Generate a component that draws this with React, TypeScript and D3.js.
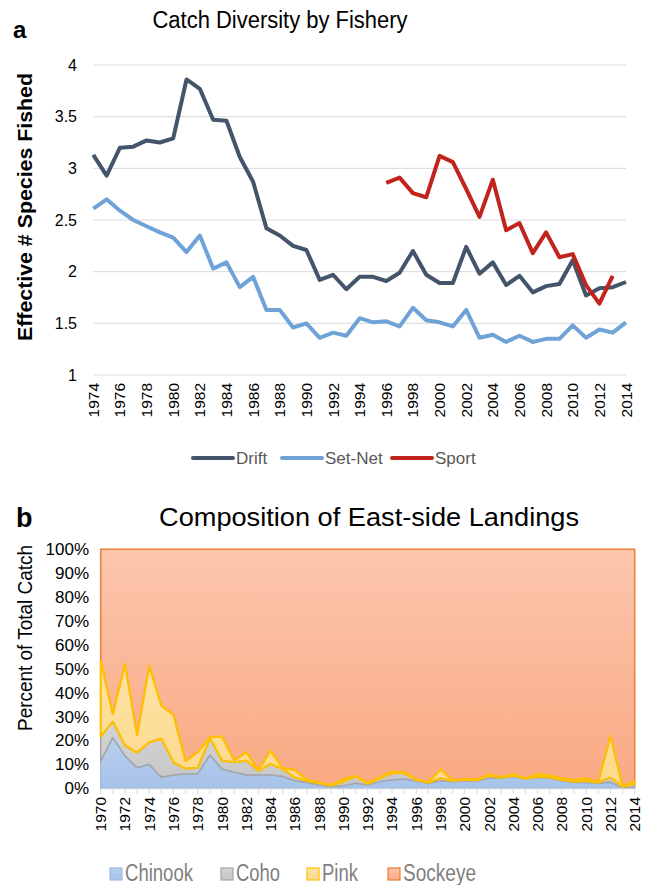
import * as d3 from "d3";
import { useRef, useEffect } from "react";

// ---- panel a: effective number of species fished ----
const yearsA = d3.range(1974, 2015);
const drift = [
  3.13, 2.93, 3.2, 3.21, 3.27, 3.25, 3.29, 3.86, 3.77, 3.47, 3.46, 3.11, 2.87,
  2.42, 2.35, 2.25, 2.21, 1.92, 1.97, 1.83, 1.95, 1.95, 1.91, 1.99, 2.2, 1.97,
  1.89, 1.89, 2.24, 1.98, 2.09, 1.87, 1.96, 1.8, 1.86, 1.88, 2.11, 1.77, 1.84,
  1.85, 1.9,
];
const setNet = [
  2.61, 2.7, 2.59, 2.5, 2.44, 2.38, 2.33, 2.19, 2.35, 2.03, 2.09, 1.85, 1.95,
  1.63, 1.63, 1.46, 1.5, 1.36, 1.41, 1.38, 1.55, 1.51, 1.52, 1.47, 1.65, 1.53,
  1.51, 1.47, 1.63, 1.36, 1.39, 1.32, 1.38, 1.32, 1.35, 1.35, 1.48, 1.36, 1.44,
  1.41, 1.51,
];
// sport starts in 1996 and ends in 2013
const sportYears = d3.range(1996, 2014);
const sport = [
  2.86, 2.91, 2.76, 2.72, 3.12, 3.06, 2.8, 2.53, 2.89, 2.4, 2.47, 2.18, 2.38,
  2.14, 2.17, 1.87, 1.69, 1.96,
];
const yTicksA = [1, 1.5, 2, 2.5, 3, 3.5, 4];

// ---- panel b: composition of east-side landings (%) ----
const yearsB = d3.range(1970, 2015);
const chinook = [
  11.4, 21.2, 13.5, 8.6, 10.0, 4.6, 5.6, 6.0, 6.0, 13.9, 8.0, 6.7, 5.6, 5.6,
  5.6, 4.9, 3.2, 2.4, 1.4, 0.7, 1.1, 2.1, 1.4, 2.8, 3.5, 3.9, 3.1, 2.0, 3.1,
  2.8, 3.1, 3.1, 4.2, 4.2, 4.9, 3.8, 4.5, 4.2, 3.1, 2.4, 2.4, 2.1, 2.5, 0.4,
  0.4,
];
const coho = [
  10.2, 6.7, 4.4, 6.3, 9.2, 16.2, 5.1, 2.2, 2.6, 7.0, 3.6, 4.2, 6.0, 1.7, 4.6,
  3.1, 1.3, 0.7, 0.7, 0.4, 1.7, 2.8, 0.5, 1.4, 2.8, 2.4, 0.4, 0.3, 1.1, 0.3,
  0.5, 0.3, 1.1, 0.2, 0.4, 0.2, 0.4, 0.4, 0.4, 0.4, 0.7, 0.3, 2.0, 0.3, 1.3,
];
const pink = [
  31.8, 3.2, 34.1, 7.4, 32.0, 13.8, 20.0, 3.2, 6.5, 0.5, 10.0, 0.7, 3.5, 0.3,
  5.6, 0.4, 3.2, 0.4, 0.4, 0.3, 1.0, 0.3, 0.4, 0.4, 0.7, 0.4, 0.3, 0.3, 3.7,
  0.3, 0.3, 0.3, 0.5, 0.3, 0.6, 0.2, 1.1, 0.7, 0.7, 0.7, 1.1, 0.2, 17.4, 0.2,
  1.4,
];
const sockeye = [
  46.6, 68.9, 48.0, 77.7, 48.8, 65.4, 69.3, 88.6, 84.9, 78.6, 78.4, 88.4,
  84.9, 92.4, 84.2, 91.6, 92.3, 96.5, 97.5, 98.6, 96.2, 94.8, 97.7, 95.4, 93.0,
  93.3, 96.2, 97.4, 92.1, 96.6, 96.1, 96.3, 94.2, 95.3, 94.1, 95.8, 94.0, 94.7,
  95.8, 96.5, 95.8, 97.4, 78.1, 99.1, 96.9,
];
const speciesNames = ["Chinook", "Coho", "Pink", "Sockeye"];
const yTicksB = [0, 0.1, 0.2, 0.3, 0.4, 0.5, 0.6, 0.7, 0.8, 0.9, 1];

const FONT = "'Liberation Sans', Arial, Helvetica, sans-serif";

const App = () => {
  const container = useRef<SVGSVGElement | null>(null);

  useEffect(() => {
    const svg = d3.select(container.current);
    svg.selectAll("*").remove();
    svg.style("font-family", FONT);

    // ================= panel a =================
    const ga = svg.append("g");
    const xA = d3
      .scalePoint<number>()
      .domain(yearsA)
      .range([93.3, 626]);
    const yA = d3.scaleLinear().domain([1, 4]).range([375, 65]);

    ga.append("text")
      .attr("x", 13)
      .attr("y", 38)
      .attr("font-size", 24)
      .attr("font-weight", "bold")
      .text("a");
    ga.append("text")
      .attr("x", 280)
      .attr("y", 28)
      .attr("text-anchor", "middle")
      .attr("font-size", 23)
      .attr("textLength", 255)
      .attr("lengthAdjust", "spacingAndGlyphs")
      .text("Catch Diversity by Fishery");

    ga.selectAll(".grid")
      .data(yTicksA)
      .join("line")
      .attr("x1", 93.3)
      .attr("x2", 626)
      .attr("y1", (d) => yA(d))
      .attr("y2", (d) => yA(d))
      .attr("stroke", "#d9d9d9")
      .attr("stroke-width", 1);

    ga.selectAll(".ytick")
      .data(yTicksA)
      .join("text")
      .attr("x", 77)
      .attr("y", (d) => yA(d))
      .attr("dy", "0.35em")
      .attr("text-anchor", "end")
      .attr("font-size", 16)
      .attr("fill", "#000")
      .text((d) => String(d));

    ga.selectAll(".xtick")
      .data(yearsA.filter((y) => y % 2 === 0))
      .join("text")
      .attr(
        "transform",
        (d) => `translate(${xA(d)! + 5.5},383) rotate(-90)`
      )
      .attr("text-anchor", "end")
      .attr("font-size", 15.5)
      .text((d) => String(d));

    ga.append("text")
      .attr("transform", "translate(32,207) rotate(-90)")
      .attr("text-anchor", "middle")
      .attr("font-size", 20)
      .attr("font-weight", "bold")
      .attr("textLength", 268)
      .attr("lengthAdjust", "spacingAndGlyphs")
      .text("Effective # Species Fished");

    const line = d3
      .line<[number, number]>()
      .x((d) => xA(d[0])!)
      .y((d) => yA(d[1]));

    const seriesA = [
      { name: "Drift", color: "#44546a", pts: yearsA.map((y, i) => [y, drift[i]]) },
      { name: "Set-Net", color: "#6fa3d8", pts: yearsA.map((y, i) => [y, setNet[i]]) },
      { name: "Sport", color: "#c0241c", pts: sportYears.map((y, i) => [y, sport[i]]) },
    ];

    ga.selectAll(".series")
      .data(seriesA)
      .join("path")
      .attr("d", (d) => line(d.pts as [number, number][]))
      .attr("fill", "none")
      .attr("stroke", (d) => d.color)
      .attr("stroke-width", 4)
      .attr("stroke-linejoin", "round");

    // legend a
    const legA = [193, 282, 392];
    seriesA.forEach((s, i) => {
      ga.append("line")
        .attr("x1", legA[i])
        .attr("x2", legA[i] + 40)
        .attr("y1", 458)
        .attr("y2", 458)
        .attr("stroke", s.color)
        .attr("stroke-width", 4)
        .attr("stroke-linecap", "round");
      ga.append("text")
        .attr("x", legA[i] + 43)
        .attr("y", 464)
        .attr("font-size", 17)
        .attr("fill", "#595959")
        .text(s.name);
    });

    // ================= panel b =================
    const gb = svg.append("g");
    const xB = d3
      .scalePoint<number>()
      .domain(yearsB)
      .range([100.7, 634.7]);
    const yB = d3.scaleLinear().domain([0, 1]).range([788.3, 549.3]);

    gb.append("text")
      .attr("x", 16)
      .attr("y", 527)
      .attr("font-size", 27)
      .attr("font-weight", "bold")
      .text("b");
    gb.append("text")
      .attr("x", 369)
      .attr("y", 526)
      .attr("text-anchor", "middle")
      .attr("font-size", 25)
      .attr("textLength", 420)
      .attr("lengthAdjust", "spacingAndGlyphs")
      .text("Composition of East-side Landings");

    gb.append("text")
      .attr("transform", "translate(32,638) rotate(-90)")
      .attr("text-anchor", "middle")
      .attr("font-size", 19.5)
      .attr("textLength", 186)
      .attr("lengthAdjust", "spacingAndGlyphs")
      .text("Percent of Total Catch");

    gb.selectAll(".ytick")
      .data(yTicksB)
      .join("text")
      .attr("x", 89)
      .attr("y", (d) => yB(d))
      .attr("dy", "0.35em")
      .attr("text-anchor", "end")
      .attr("font-size", 17)
      .text((d) => `${Math.round(d * 100)}%`);

    const table = yearsB.map((y, i) => ({
      year: y,
      Chinook: chinook[i],
      Coho: coho[i],
      Pink: pink[i],
      Sockeye: sockeye[i],
    }));
    const stacked = d3
      .stack<any>()
      .keys(speciesNames)
      .offset(d3.stackOffsetExpand)(table);

    const defs = svg.append("defs");
    const grads = [
      { id: "gChinook", top: "#b9cfee", bot: "#a8c2e9" },
      { id: "gCoho", top: "#d4d4d4", bot: "#c6c6c6" },
      { id: "gPink", top: "#fde3a6", bot: "#fcd98c" },
      { id: "gSockeye", top: "#fcc6ad", bot: "#f9a983" },
    ];
    grads.forEach((g) => {
      const lg = defs
        .append("linearGradient")
        .attr("id", g.id)
        .attr("x1", 0)
        .attr("y1", 0)
        .attr("x2", 0)
        .attr("y2", 1);
      lg.append("stop").attr("offset", "0%").attr("stop-color", g.top);
      lg.append("stop").attr("offset", "100%").attr("stop-color", g.bot);
    });
    const strokes: Record<string, string> = {
      Chinook: "#9dbbe3",
      Coho: "#a5a5a5",
      Pink: "#ffc000",
      Sockeye: "#ed7d31",
    };
    const strokeW: Record<string, number> = {
      Chinook: 1.5,
      Coho: 1.5,
      Pink: 2.2,
      Sockeye: 1.5,
    };

    const area = d3
      .area<any>()
      .x((d) => xB(d.data.year)!)
      .y0((d) => yB(d[0]))
      .y1((d) => yB(d[1]));

    gb.selectAll(".area")
      .data(stacked)
      .join("path")
      .attr("d", (d) => area(d as any))
      .attr("fill", (d) => `url(#g${d.key})`)
      .attr("stroke", "none");

    const order = ["Sockeye", "Chinook", "Coho", "Pink"];
    order.forEach((k) => {
      const s = stacked.find((t) => t.key === k)!;
      gb.append("path")
        .attr("d", area(s as any))
        .attr("fill", "none")
        .attr("stroke", strokes[k])
        .attr("stroke-width", strokeW[k])
        .attr("stroke-linejoin", "round");
    });

    // bottom axis + ticks
    gb.append("line")
      .attr("x1", 100.7)
      .attr("x2", 634.7)
      .attr("y1", 788.8)
      .attr("y2", 788.8)
      .attr("stroke", "#d9d9d9");
    gb.selectAll(".xt")
      .data(yearsB)
      .join("line")
      .attr("x1", (d) => xB(d)!)
      .attr("x2", (d) => xB(d)!)
      .attr("y1", 788.8)
      .attr("y2", 794)
      .attr("stroke", "#d9d9d9");

    gb.selectAll(".xtick")
      .data(yearsB.filter((y) => y % 2 === 0))
      .join("text")
      .attr(
        "transform",
        (d) => `translate(${xB(d)! + 5.5},797) rotate(-90)`
      )
      .attr("text-anchor", "end")
      .attr("font-size", 15.5)
      .text((d) => String(d));

    // legend b
    const legB = [
      { k: "Chinook", x: 110, w: 68 },
      { k: "Coho", x: 221, w: 44 },
      { k: "Pink", x: 307, w: 36 },
      { k: "Sockeye", x: 388, w: 73 },
    ];
    legB.forEach((l) => {
      gb.append("rect")
        .attr("x", l.x)
        .attr("y", 868)
        .attr("width", 12)
        .attr("height", 12)
        .attr("fill", `url(#g${l.k})`)
        .attr("stroke", strokes[l.k])
        .attr("stroke-width", 1.2);
      gb.append("text")
        .attr("x", l.x + 15)
        .attr("y", 881)
        .attr("font-size", 23)
        .attr("fill", "#7f7f7f")
        .attr("textLength", l.w)
        .attr("lengthAdjust", "spacingAndGlyphs")
        .text(l.k);
    });
  });

  return (
    <svg
      ref={container}
      width={649}
      height={885}
      style={{ position: "absolute", left: 0, top: 0, background: "#fff" }}
    />
  );
};

export default App;
